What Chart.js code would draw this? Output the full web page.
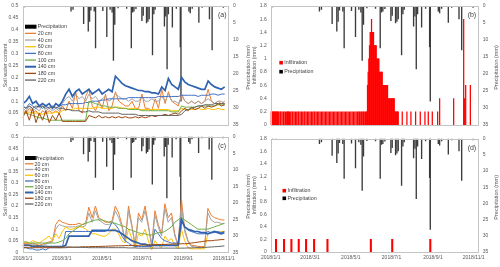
<!DOCTYPE html>
<html>
<head>
<meta charset="utf-8">
<script src="https://cdn.jsdelivr.net/npm/chart.js@4.4.1/dist/chart.umd.min.js"></script>
<style>
  body { margin: 0; background: #fff; width: 500px; height: 267px; position: relative; overflow: hidden; }
  canvas { position: absolute; }
</style>
</head>
<body>
<canvas id="chartA" width="250" height="127" style="left:0;top:0"></canvas>
<canvas id="chartB" width="250" height="127" style="left:250px;top:0"></canvas>
<canvas id="chartC" width="250" height="133" style="left:0;top:134px"></canvas>
<canvas id="chartD" width="250" height="133" style="left:250px;top:134px"></canvas>
<script>
// x axis: days since 2018/1/1
var dayMax = 310;
var xTickDays = [0, 59, 120, 181, 243, 304];
var xTickLabels = ['2018/1/1', '2018/3/1', '2018/5/1', '2018/7/1', '2018/9/1', '2018/11/1'];

// sampling days of the soil water series
var days = [0,5,10,15,20,25,30,35,40,45,50,55,60,65,70,75,80,85,90,95,100,105,110,115,120,125,130,135,140,145,150,155,
  160,165,170,175,180,185,190,195,200,205,210,215,220,225,230,235,240,245,250,255,260,265,270,275,280,285,290,295,300,305];

var depths = ['20 cm', '40 cm', '60 cm', '80 cm', '100 cm', '140 cm', '180 cm', '220 cm'];
var depthColors = ['#ED7D31', '#A5A5A5', '#FFC000', '#4472C4', '#70AD47', '#2F62B0', '#9E480E', '#636363'];
var depthWidths = [1, 1, 1, 1, 1, 1.7, 1, 1];

// precipitation (mm), same gauge for all panels
var precipDays = [3,8,73,76,92,99,101,103,108,110,121,127,132,135,137,139,144,157,164,166,168,171,180,182,187,189,191,
  196,198,200,214,216,218,220,226,232,238,239,251,253,256,266,271,282,286,303];
var precipMm = [0.3,0.2,1.5,1.0,5.2,7.4,4.5,1.2,1.5,12.3,1.4,9,1.0,1.8,16,5.4,0.6,0.7,12.3,1.8,1.5,0.8,4.3,2.8,5,4.5,3.8,
  14.4,2.3,1,5.9,3,18.5,2.3,6.2,0.7,12,28,1.5,2,0.7,4.8,0.4,3.8,12.9,0.4];

// (a) soil water content
var a20 = [0.06,0.05,0.07,0.05,0.06,0.04,0.06,0.05,0.06,0.05,0.06,0.05,
  0.08,0.06,0.10,0.07,0.14,0.06,0.05,0.12,0.15,0.08,0.06,0.10,0.07,0.13,0.06,0.08,
  0.14,0.10,0.09,0.08,0.08,0.10,0.07,0.07,0.13,0.07,0.07,0.06,0.11,0.07,
  0.15,0.09,0.14,0.10,0.09,0.08,0.13,0.10,0.09,0.10,0.09,0.10,0.09,0.10,0.15,0.10,0.09,0.10,0.09,0.10];
var a40 = [0.07,0.06,0.08,0.06,0.07,0.06,0.08,0.06,0.07,0.06,0.07,0.06,
  0.09,0.11,0.12,0.10,0.13,0.11,0.12,0.10,0.13,0.11,0.12,0.10,0.11,0.12,0.10,0.11,
  0.13,0.12,0.11,0.11,0.10,0.11,0.10,0.10,0.12,0.10,0.10,0.11,0.10,0.10,
  0.12,0.10,0.13,0.10,0.10,0.09,0.12,0.10,0.09,0.10,0.09,0.10,0.09,0.10,0.11,0.10,0.09,0.10,0.10,0.09];
var a60 = [0.05,0.05,0.055,0.05,0.05,0.05,0.045,0.05,0.05,0.05,0.055,0.05,
  0.06,0.065,0.065,0.065,0.07,0.07,0.07,0.07,0.07,0.07,0.075,0.075,0.07,0.07,0.07,0.07,
  0.075,0.075,0.07,0.07,0.07,0.07,0.07,0.065,0.065,0.065,0.065,0.065,0.065,0.065,
  0.065,0.065,0.065,0.06,0.06,0.06,0.07,0.065,0.065,0.065,0.065,0.07,0.065,0.065,0.07,0.065,0.065,0.07,0.065,0.065];
var a80 = [0.08,0.07,0.09,0.08,0.07,0.08,0.07,0.08,0.07,0.08,0.07,0.08,
  0.085,0.085,0.09,0.09,0.09,0.09,0.09,0.095,0.095,0.10,0.10,0.10,0.105,0.105,0.11,0.11,
  0.11,0.11,0.11,0.11,0.115,0.115,0.115,0.115,0.115,0.115,0.115,0.115,0.115,0.12,
  0.12,0.12,0.12,0.12,0.12,0.12,0.125,0.125,0.125,0.125,0.125,0.12,0.125,0.125,0.125,0.13,0.13,0.125,0.13,0.13];
var a100 = [0.05,0.05,0.045,0.04,0.035,0.03,0.03,0.025,0.02,0.02,0.02,0.02,
  0.02,0.02,0.02,0.02,0.02,0.02,0.02,0.02,0.10,0.095,0.09,0.085,0.08,0.08,0.075,0.075,
  0.075,0.07,0.07,0.07,0.065,0.065,0.065,0.065,0.06,0.06,0.06,0.06,0.06,0.06,
  0.06,0.06,0.06,0.055,0.055,0.055,0.08,0.075,0.075,0.075,0.075,0.08,0.08,0.08,0.08,0.08,0.08,0.085,0.085,0.085];
var a140 = [0.09,0.10,0.12,0.09,0.10,0.08,0.09,0.08,0.09,0.07,0.09,0.08,
  0.10,0.13,0.15,0.12,0.14,0.15,0.13,0.14,0.15,0.13,0.14,0.15,0.13,0.14,0.15,0.14,
  0.205,0.19,0.175,0.165,0.16,0.155,0.15,0.145,0.145,0.14,0.14,0.135,0.135,0.13,
  0.16,0.145,0.195,0.17,0.16,0.15,0.20,0.18,0.17,0.165,0.16,0.155,0.15,0.15,0.185,0.17,0.16,0.155,0.15,0.16];
var a180 = [0.03,0.06,0.02,0.07,0.01,0.05,0.02,0.06,0.01,0.04,0.02,0.05,
  0.015,0.015,0.015,0.015,0.015,0.015,0.015,0.015,0.04,0.035,0.03,0.04,0.03,0.035,0.03,0.035,
  0.03,0.035,0.03,0.035,0.03,0.03,0.035,0.03,0.035,0.03,0.035,0.04,0.035,0.04,
  0.04,0.045,0.04,0.045,0.05,0.045,0.06,0.07,0.06,0.075,0.065,0.07,0.08,0.07,0.08,0.075,0.08,0.09,0.08,0.085];
var a220 = [0.08,0.07,0.08,0.07,0.08,0.075,0.08,0.07,0.075,0.075,0.075,0.07,
  0.07,0.065,0.065,0.06,0.06,0.06,0.055,0.055,0.06,0.055,0.055,0.055,0.05,0.05,0.05,0.05,
  0.05,0.05,0.045,0.045,0.045,0.045,0.045,0.04,0.04,0.04,0.04,0.04,0.04,0.04,
  0.04,0.04,0.04,0.04,0.04,0.04,0.045,0.06,0.065,0.07,0.075,0.08,0.08,0.085,0.085,0.085,0.09,0.09,0.09,0.09];

// (c) soil water content
var c20 = [0.035,0.04,0.035,0.04,0.035,0.03,0.035,0.04,0.045,0.05,
  0.12,0.14,0.13,0.125,0.12,0.12,0.12,0.125,0.12,0.125,
  0.195,0.15,0.20,0.15,0.14,0.13,0.13,0.135,
  0.20,0.17,0.12,0.05,0.20,0.12,0.03,0.17,0.14,0.20,0.12,0.03,0.18,0.12,0.08,0.21,0.15,0.17,0.08,0.03,
  0.23,0.10,0.05,0.03,0.03,0.025,0.025,0.025,0.19,0.16,0.15,0.145,0.14,0.14];
var c40 = [0.03,0.035,0.03,0.035,0.03,0.03,0.03,0.035,0.04,0.045,
  0.10,0.12,0.115,0.11,0.11,0.11,0.11,0.115,0.11,0.115,
  0.17,0.13,0.18,0.14,0.13,0.12,0.12,0.125,
  0.18,0.15,0.11,0.045,0.18,0.11,0.03,0.15,0.13,0.18,0.11,0.03,0.16,0.11,0.07,0.19,0.13,0.15,0.07,0.03,
  0.20,0.09,0.045,0.025,0.025,0.02,0.02,0.02,0.17,0.14,0.13,0.13,0.125,0.125];
var c60 = [0.04,0.045,0.04,0.05,0.045,0.04,0.05,0.06,0.07,0.05,
  0.08,0.06,0.09,0.11,0.10,0.10,0.105,0.11,0.11,0.10,
  0.09,0.08,0.08,0.075,0.07,0.07,0.08,0.10,
  0.10,0.08,0.05,0.04,0.10,0.06,0.02,0.08,0.07,0.10,0.05,0.01,0.05,0.03,
  0.02,0.07,0.05,0.06,0.03,0.015,0.10,0.05,0.02,0.015,0.015,0.015,0.015,0.015,0.08,0.085,0.09,0.085,0.09,0.09];
var c80 = [0.02,0.02,0.015,0.015,0.01,0.01,0.015,0.01,0.02,0.02,
  0.02,0.02,0.02,0.09,0.09,0.09,0.09,0.09,0.09,0.09,
  0.09,0.09,0.09,0.09,0.09,0.09,0.10,0.13,
  0.12,0.10,0.07,0.05,0.04,0.03,0.025,0.025,0.025,0.025,0.025,0.025,0.10,0.08,
  0.06,0.05,0.045,0.04,0.04,0.04,0.15,0.11,0.095,0.09,0.085,0.08,0.08,0.08,0.09,0.085,0.085,0.09,0.085,0.09];
var c100 = [0.045,0.045,0.04,0.04,0.04,0.04,0.04,0.04,0.04,0.04,0.04,0.045,
  0.05,0.06,0.08,0.09,0.10,0.11,0.12,0.125,0.13,0.135,0.14,0.14,0.14,0.135,0.13,0.13,
  0.125,0.12,0.115,0.11,0.10,0.095,0.09,0.085,0.08,0.08,0.075,0.075,0.08,0.085,
  0.085,0.09,0.10,0.11,0.13,0.14,0.15,0.14,0.13,0.12,0.11,0.10,0.10,0.10,0.10,0.105,0.11,0.115,0.12,0.125];
var c140 = [0.03,0.03,0.03,0.025,0.025,0.025,0.025,0.025,0.025,0.025,0.025,0.025,0.025,0.03,
  0.07,0.07,0.07,0.07,0.07,0.07,0.07,
  0.095,0.095,0.095,0.095,0.095,0.095,0.095,
  0.095,0.09,0.08,0.07,0.06,0.05,0.045,0.04,0.035,0.035,0.03,0.03,0.03,0.03,
  0.03,0.03,0.03,0.03,0.03,0.03,
  0.14,0.11,0.10,0.095,0.09,0.09,0.085,0.085,0.08,0.085,0.09,0.085,0.08,0.085];
var c180 = [0.02,0.02,0.02,0.02,0.02,0.02,0.02,0.02,0.02,0.02,
  0.02,0.02,0.02,0.02,0.022,0.022,0.022,0.022,0.024,0.024,
  0.024,0.025,0.025,0.025,0.026,0.026,0.027,0.027,0.028,0.028,
  0.028,0.029,0.029,0.03,0.03,0.03,0.031,0.031,0.032,0.032,
  0.033,0.033,0.034,0.034,0.035,0.035,0.036,0.036,0.037,0.037,
  0.038,0.04,0.042,0.044,0.046,0.048,0.05,0.05,0.052,0.053,0.055,0.055];
var c220 = [0.03,0.03,0.03,0.028,0.028,0.028,0.026,0.026,0.025,0.025,
  0.025,0.024,0.024,0.023,0.023,0.022,0.022,0.022,0.021,0.021,
  0.02,0.02,0.02,0.02,0.02,0.02,0.02,0.02,0.02,0.02,
  0.02,0.02,0.019,0.019,0.019,0.018,0.018,0.018,0.018,0.018,
  0.018,0.018,0.018,0.018,0.018,0.018,0.018,0.018,0.018,0.018,
  0.019,0.019,0.02,0.02,0.02,0.021,0.022,0.023,0.024,0.025,0.026,0.028];

// (b) infiltration (mm)
var infilBDays = [0,1,2,3,4,5,6,7,8,9,10,11,12,14,15,17,19,20,22,24,25,26,27,28,30,32,33,35,37,39,41,42,44,46,48,50,51,53,55,
  57,59,61,63,65,66,68,70,72,74,76,78,80,82,84,86,88,90,92,94,96,98,100,102,104,106,108,110,112,114,116,118,120,122,124,
  126,128,130,131,133,134,136,137,139,140,142,143,
  144,145,146,147,148,149,150,151,152,153,154,155,156,157,158,159,160,161,162,163,164,165,166,167,168,169,170,171,172,
  173,174,175,176,177,178,179,180,181,182,183,184,185,186,187,188,189,190,191,
  197,204,210,217,224,231,236,242,250,253,274,289,290,292,299];
var infilB = [0.2,0.2,0.2,0.2,0.2,0.2,0.2,0.2,0.2,0.2,0.2,0.2,0.2,0.2,0.2,0.2,0.2,0.2,0.2,0.2,0.2,0.2,0.2,0.2,0.2,0.2,0.2,
  0.2,0.2,0.2,0.2,0.2,0.2,0.2,0.2,0.2,0.2,0.2,0.2,0.2,0.2,0.2,0.2,0.2,0.2,0.2,0.2,0.2,0.2,0.2,0.2,0.2,0.2,0.2,0.2,0.2,
  0.2,0.2,0.2,0.2,0.2,0.2,0.2,0.2,0.2,0.2,0.2,0.2,0.2,0.2,0.2,0.2,0.2,0.2,0.2,0.2,0.2,0.2,0.2,0.2,0.2,0.2,0.2,0.2,0.2,0.2,
  0.2,0.6,0.8,1.0,1.2,1.4,1.4,1.6,1.4,1.4,1.4,1.2,1.2,1.2,1.2,1.0,1.0,1.0,1.0,0.8,0.8,0.8,0.8,0.8,0.6,0.6,0.6,0.6,
  0.6,0.6,0.6,0.6,0.4,0.4,0.4,0.4,0.4,0.4,0.4,0.4,0.4,0.4,0.2,0.2,0.2,0.2,0.2,0.2,
  0.2,0.2,0.2,0.2,0.2,0.2,0.2,0.2,0.2,0.4,0.4,1.6,0.4,0.6,0.6];

// (d) infiltration (mm)
var infilDDays = [8, 20, 31, 42, 53, 65, 85, 150, 182, 239];
var infilD = [0.2, 0.2, 0.2, 0.2, 0.2, 0.2, 0.2, 0.2, 0.2, 0.2];

var FONT = '"Liberation Sans", Arial, sans-serif';
var TXT = '#595959';

function pts(xs, ys) {
  return xs.map(function (x, i) { return { x: x, y: ys[i] }; });
}

function precipSet(swatch) {
  return { type: 'bar', label: 'Precipitation', data: pts(precipDays, precipMm), backgroundColor: '#3c3c3c',
    barThickness: 0.7, grouped: false, yAxisID: 'y2', order: 200, swatch: swatch };
}

function swcSets(series) {
  return series.map(function (vals, i) {
    return { type: 'line', label: depths[i], data: pts(days, vals), borderColor: depthColors[i],
      borderWidth: depthWidths[i], pointRadius: 0, tension: 0, yAxisID: 'y', order: 100 - i, swatch: 'line' };
  });
}

function infilSet(xs, ys, thick) {
  return { type: 'bar', label: 'Infiltration', data: pts(xs, ys), backgroundColor: '#ff0000',
    barThickness: thick, grouped: false, yAxisID: 'y', order: 50, swatch: 'square' };
}

// frame, panel letter, right axis title and legend
var panelDecor = {
  id: 'panelDecor',
  afterDraw: function (chart, args, o) {
    var ctx = chart.ctx, a = chart.chartArea;
    ctx.save();
    ctx.strokeStyle = '#c4c4c4';
    ctx.lineWidth = 1;
    var l = Math.round(a.left), t = Math.round(a.top), r = Math.round(a.right), b = Math.round(a.bottom);
    ctx.strokeRect(l + 0.5, t + 0.5, r - l, b - t);

    ctx.fillStyle = '#404040';
    ctx.font = '7px ' + FONT;
    ctx.textAlign = 'right';
    ctx.textBaseline = 'middle';
    ctx.fillText(o.tag, a.right - 1.5, a.top + 9);

    ctx.save();
    ctx.translate(o.rightTitleX, (a.top + a.bottom) / 2 + 2);
    ctx.rotate(-Math.PI / 2);
    ctx.font = '5.5px ' + FONT;
    ctx.textAlign = 'center';
    ctx.fillStyle = TXT;
    ctx.fillText('Precipitation (mm)', 0, 0);
    ctx.restore();

    var L = o.legend;
    ctx.font = '5.3px ' + FONT;
    ctx.textAlign = 'left';
    ctx.textBaseline = 'middle';
    chart.data.datasets.forEach(function (ds, i) {
      var y = L.y + i * L.dy;
      if (ds.swatch === 'wide') {
        ctx.fillStyle = '#000';
        ctx.fillRect(L.x, y - 2, 11.5, 4);
      } else if (ds.swatch === 'square') {
        ctx.fillStyle = ds.backgroundColor === '#ff0000' ? '#ff0000' : '#000';
        ctx.fillRect(L.x, y - 1.8, 3.6, 3.6);
      } else {
        ctx.strokeStyle = ds.borderColor;
        ctx.lineWidth = ds.borderWidth + 0.3;
        ctx.beginPath();
        ctx.moveTo(L.x, y);
        ctx.lineTo(L.x + L.lineLen, y);
        ctx.stroke();
      }
      ctx.fillStyle = '#404040';
      ctx.fillText(ds.label, L.x + L.tx, y + 0.3);
    });
    ctx.restore();
  }
};
Chart.register(panelDecor);

function makePanel(id, p) {
  var tickFont = { family: FONT, size: 5 };
  return new Chart(document.getElementById(id), {
    type: 'bar',
    data: { datasets: p.datasets },
    options: {
      responsive: false,
      animation: false,
      events: [],
      layout: { padding: { top: p.padTop, bottom: p.padBottom, left: 0, right: 0 } },
      plugins: { legend: { display: false }, tooltip: { enabled: false }, panelDecor: p.decor },
      scales: {
        x: {
          type: 'linear', min: 0, max: dayMax, offset: false, display: p.showX,
          grid: { display: false, drawTicks: false }, border: { display: false },
          afterBuildTicks: function (s) { s.ticks = xTickDays.map(function (v) { return { value: v }; }); },
          afterFit: function (s) { s.height = p.xHeight; s.paddingLeft = 0; s.paddingRight = 0; },
          ticks: { callback: function (v, i) { return xTickLabels[i]; }, autoSkip: false, maxRotation: 0,
            padding: 3, color: TXT, font: tickFont }
        },
        y: {
          position: 'left', min: 0, max: p.yMax,
          grid: { display: false, drawTicks: false }, border: { display: false },
          ticks: { stepSize: p.yStep, padding: p.leftPad, color: TXT, font: tickFont,
            callback: function (v) { return +v.toFixed(2); } },
          title: { display: true, text: p.yTitle, color: TXT, font: { family: FONT, size: 5.5, lineHeight: 1 },
            padding: { top: p.titlePad, bottom: 0 } },
          afterFit: function (s) { s.width = p.leftW; s.paddingTop = 0; s.paddingBottom = 0; }
        },
        y2: {
          position: 'right', min: 0, max: 35, reverse: true,
          grid: { display: false, drawTicks: false }, border: { display: false },
          ticks: { stepSize: 5, padding: 5, color: TXT, font: tickFont },
          afterFit: function (s) { s.width = p.rightW; s.paddingTop = 0; s.paddingBottom = 0; }
        }
      }
    }
  });
}

makePanel('chartA', {
  datasets: [precipSet('wide')].concat(swcSets([a20, a40, a60, a80, a100, a140, a180, a220])),
  yMax: 0.5, yStep: 0.05, yTitle: 'Soil water content', leftW: 22.7, rightW: 22, leftPad: 4.4, titlePad: 3.2,
  padTop: 6, padBottom: 2, showX: false, xHeight: 0,
  decor: { tag: '(a)', rightTitleX: 248.3, legend: { x: 25, y: 26.7, dy: 6.67, tx: 12.7, lineLen: 11 } }
});

makePanel('chartB', {
  datasets: [infilSet(infilBDays, infilB, 0.6), precipSet('square')],
  yMax: 1.8, yStep: 0.2, yTitle: 'Infiltration (mm)', leftW: 20.7, rightW: 22.3, leftPad: 4, titlePad: 2.2,
  padTop: 6, padBottom: 2, showX: false, xHeight: 0,
  decor: { tag: '(b)', rightTitleX: 246.7, legend: { x: 29.3, y: 62.7, dy: 9, tx: 5, lineLen: 0 } }
});

makePanel('chartC', {
  datasets: [precipSet('wide')].concat(swcSets([c20, c40, c60, c80, c100, c140, c180, c220])),
  yMax: 0.5, yStep: 0.05, yTitle: 'Soil water content', leftW: 22.7, rightW: 22.3, leftPad: 4.4, titlePad: 3.2,
  padTop: 2.7, padBottom: 0, showX: true, xHeight: 14.7,
  decor: { tag: '(c)', rightTitleX: 248.3, legend: { x: 25, y: 24, dy: 5.75, tx: 9.5, lineLen: 8.5 } }
});

makePanel('chartD', {
  datasets: [infilSet(infilDDays, infilD, 1.4), precipSet('square')],
  yMax: 1.8, yStep: 0.2, yTitle: 'Infiltration (mm)', leftW: 20.7, rightW: 22.3, leftPad: 4, titlePad: 2.2,
  padTop: 4.7, padBottom: 0, showX: true, xHeight: 15,
  decor: { tag: '(d)', rightTitleX: 246.7, legend: { x: 32.5, y: 56.7, dy: 7.6, tx: 5, lineLen: 0 } }
});
</script>
</body>
</html>
